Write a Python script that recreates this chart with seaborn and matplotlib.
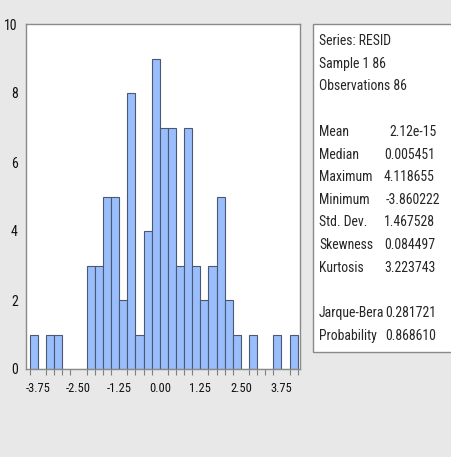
import numpy as np
import pandas as pd
import matplotlib
matplotlib.use('Agg')
import matplotlib.pyplot as plt
from matplotlib import font_manager
from matplotlib.patches import Rectangle
from matplotlib.ticker import MultipleLocator
import seaborn as sns

# histogram of residuals (bin width 0.25, first bin starts at -4.00)
bin_start = -4.0
bin_width = 0.25
counts = [1, 0, 1, 1, 0, 0, 0, 3, 3, 5, 5, 2, 8, 1, 4, 9, 7,
          7, 3, 7, 3, 2, 3, 5, 2, 1, 0, 1, 0, 0, 1, 0, 1]

x_ticks = [-3.75, -2.50, -1.25, 0.00, 1.25, 2.50, 3.75]
x_tick_labels = ['-3.75', '-2.50', '-1.25', '0.00', '1.25', '2.50', '3.75']
y_ticks = [0, 2, 4, 6, 8, 10]

stat_header = ['Series: RESID', 'Sample 1 86', 'Observations 86']
stat_names = ['Mean', 'Median', 'Maximum', 'Minimum', 'Std. Dev.', 'Skewness', 'Kurtosis']
stat_values = ['2.12e-15', '0.005451', '4.118655', '-3.860222', '1.467528', '0.084497', '3.223743']
test_names = ['Jarque-Bera', 'Probability']
test_values = ['0.281721', '0.868610']

edges = bin_start + bin_width * np.arange(len(counts) + 1)
df = pd.DataFrame({'resid': edges[:-1] + bin_width / 2, 'n': counts})

sns.set_style('white')

# narrow font if one is around, else plain Liberation Sans a bit smaller
installed = {f.name for f in font_manager.fontManager.ttflist}
narrow = [f for f in ['Liberation Sans Narrow', 'Arial Narrow', 'Roboto Condensed',
                      'Open Sans Condensed', 'DejaVu Sans Condensed'] if f in installed]
if narrow:
    plt.rcParams['font.family'] = [narrow[0], 'DejaVu Sans']
    fs, xfs, yfs = 9.9, 9.0, 10.0
else:
    plt.rcParams['font.family'] = ['Liberation Sans', 'DejaVu Sans']
    fs, xfs, yfs = 8.1, 7.4, 8.3

bg = '#E8E8E8'
fig = plt.figure(figsize=(4.52, 4.57), dpi=100, facecolor=bg)
W, H = 452, 457

ax = fig.add_axes([26 / W, 1 - 369 / H, 274 / W, 345 / H])
sns.histplot(data=df, x='resid', weights='n', binwidth=bin_width,
             binrange=(edges[0], edges[-1]), ax=ax,
             color='#99BEFB', alpha=1, edgecolor='#4B5873', linewidth=0.8)

ax.set_xlim(-4.12, 4.32)
ax.set_ylim(0, 10)
ax.set_xticks(x_ticks)
ax.set_xticklabels(x_tick_labels)
ax.xaxis.set_minor_locator(MultipleLocator(0.25))
ax.set_yticks(y_ticks)
ax.set_xlabel('')
ax.set_ylabel('')
ax.tick_params(axis='both', which='major', direction='out', length=4, width=0.8,
               color='#808080', pad=2, labelcolor='#111111')
ax.tick_params(axis='x', which='major', length=8, labelsize=xfs, pad=1)
ax.tick_params(axis='y', labelsize=yfs)
ax.tick_params(axis='x', which='minor', direction='out', length=4, width=0.8,
               color='#808080', bottom=True)
for s in ax.spines.values():
    s.set_color('#8A8A8A')
    s.set_linewidth(1.0)

# statistics box
fig.patches.append(Rectangle((313 / W, 1 - 352 / H), 150 / W, 328 / H,
                             transform=fig.transFigure, facecolor='white',
                             edgecolor='#8A8A8A', linewidth=1.0))

tx = 319 / W
vx = 384 / W
for i, t in enumerate(stat_header):
    fig.text(tx, 1 - (41 + i * 22.7) / H, t, fontsize=fs, va='center', ha='left')
for i, (n, v) in enumerate(zip(stat_names, stat_values)):
    y = 1 - (132 + i * 22.6) / H
    fig.text(tx, y, n, fontsize=fs, va='center', ha='left')
    off = {0: 5, 3: 2}.get(i, 0)
    fig.text(vx + off / W, y, v, fontsize=fs, va='center', ha='left')
for i, (n, v) in enumerate(zip(test_names, test_values)):
    y = 1 - (313 + i * 22.6) / H
    fig.text(tx, y, n, fontsize=fs, va='center', ha='left')
    fig.text(vx + 1 / W, y, v, fontsize=fs, va='center', ha='left')

fig.savefig('out.png', dpi=100, facecolor=bg)
